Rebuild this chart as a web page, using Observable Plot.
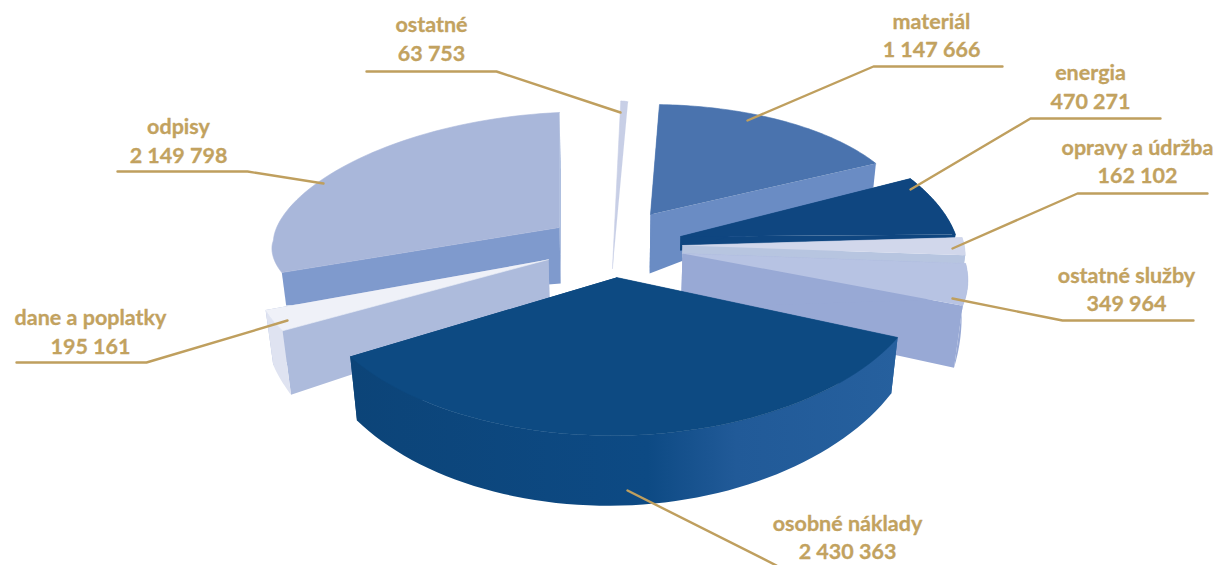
<!DOCTYPE html>
<html><head><meta charset="utf-8">
<script src="https://cdn.jsdelivr.net/npm/d3@7"></script>
<script src="https://cdn.jsdelivr.net/npm/@observablehq/plot@0.6"></script>
<style>html,body{margin:0;padding:0;background:#fff}svg{display:block}</style>
</head><body><div id="chart"></div>
<script>
const categories = ["materiál","energia","opravy a údržba","ostatné služby","osobné náklady","dane a poplatky","odpisy","ostatné"];
const values = [1147666,470271,162102,349964,2430363,195161,2149798,63753];
const valueLabels = ["1 147 666","470 271","162 102","349 964","2 430 363","195 161","2 149 798","63 753"];

// Picture layout of every exploded slice (the perspective of the original is per slice)
const sliceLayout = [
 {ax:650,ay:214,rx:257,ryF:110,ryN:110,p:1.05,rot:0,sx:0,sxN:0,sy:0,h0:59,hs:20,he:24,hm:0,top:"#4a73ae",side:"#6a8cc4",rim:"none"},
 {ax:680,ay:236,rx:278,ryF:136,ryN:136,p:1,rot:0,sx:-29,sxN:-29,sy:8.5,h0:14,hs:6,he:6,hm:0,top:"#0f4680",side:"#0f4680"},
 {ax:682,ay:245,rx:282,ryF:122,ryN:122,p:1,rot:0,sx:-20,sxN:-20,sy:1.4,h0:12,hs:8,he:8,hm:0,top:"#d1d7eb",side:"#b7c5e0"},
 {ax:682,ay:253,rx:280,ryF:138,ryN:138,p:1,rot:0,sx:-55,sxN:-55,sy:0.4,h0:55,hs:35,he:62,hm:0,top:"#b7c3e3",side:"#98a9d5"},
 {ax:616,ay:277,rx:308,ryF:158,ryN:158,p:1.05,rot:0,sx:11.7,sxN:11.7,sy:3.8,h0:64,hs:56,he:64,hm:10,top:"#0d4a82",side:"url(#rimGrad)"},
 {ax:548,ay:259,rx:289,ryF:133,ryN:133,p:1,rot:0,sx:41,sxN:41,sy:0,h0:49,hs:64,he:55,hm:0,top:"#eff1f8",side:"#adbbdc",rim:"#dfe3f1"},
 {ax:559,ay:227,rx:286,ryF:115,ryN:107,p:1.15,rot:1.3,sx:0,sxN:30,sy:-13,h0:56,hs:33,he:50,hm:0,top:"#a9b7da",side:"#7f9acd",rim:"none"},
 {ax:612,ay:268,rx:125,ryF:168,ryN:168,p:1,rot:5.1,sx:0,sxN:0,sy:0,h0:1,hs:1,he:1,hm:0,top:"#c8cfe6",side:"#c8cfe6"}
];
const drawOrder = [7,6,5,0,1,2,3,4];
const startAngle = 2, vanishX = 612, convergence = 0.0004;

// label centre and leader line of each category, picture layout
const labelLayout = [
 {x:931,y:33.5,leader:[[1002,66],[873,66],[747,120]]},
 {x:1090,y:85,leader:[[1160,118],[1030,118],[910,189]]},
 {x:1137,y:159.5,leader:[[1207,193],[1077,193],[952,248]]},
 {x:1126,y:287.5,leader:[[1193,320],[1062,320],[952,298]]},
 {x:847,y:535.5,leader:[[627,490],[776,565]]},
 {x:90,y:330,leader:[[16,362],[146,362],[287,320]]},
 {x:178,y:139,leader:[[117,171],[247,171],[323,183]]},
 {x:431,y:37,leader:[[366,71],[496,71],[620,112]]}
];

const total = d3.sum(values);
const ends = Array.from(d3.cumsum(values), v => startAngle + v / total * 360);
const rad = d => d * Math.PI / 180;

function rimPoint(L, a0, a1, t) {
  const th = rad(a0 + (a1 - a0) * t + L.rot), c = Math.cos(th), s = Math.sin(th);
  const x = L.ax + L.rx * s + (c < 0 ? L.sxN : L.sx) * c;
  const y = L.ay - (c > 0 ? L.ryF : L.ryN) * Math.sign(c) * Math.pow(Math.abs(c), L.p) + L.sy * s;
  const h = L.hs + (L.he - L.hs) * t + L.hm * Math.sin(Math.PI * t);
  return {x, y, h};
}
const drop = ({x, y, h}) => ({x: vanishX + (x - vanishX) * (1 - convergence * h), y: y + h});

const polygon = (pts, fill, stroke = "none") => Plot.line(pts, {x: "x", y: "y", fill, stroke, strokeWidth: 0.6});

const sliceMarks = drawOrder.flatMap(i => {
  const L = sliceLayout[i], a1 = ends[i], a0 = a1 - values[i] / total * 360;
  const arc = d3.range(0, 61).map(k => rimPoint(L, a0, a1, k / 60));
  const apex = {x: L.ax, y: L.ay, h: L.h0};
  const faceOf = p => [apex, p, drop(p), drop(apex)];
  return [
    polygon(faceOf(arc[60]), L.side),
    polygon(faceOf(arc[0]), L.side),
    polygon([...arc, ...arc.map(drop).reverse()], L.rim || L.side),
    polygon([apex, ...arc], L.top, L.top)
  ];
});

const gradient = () => {
  const defs = d3.create("svg:defs");
  const g = defs.append("linearGradient").attr("id", "rimGrad")
    .attr("gradientUnits", "userSpaceOnUse").attr("x1", 350).attr("x2", 900).attr("y1", 0).attr("y2", 0);
  [[0, "#0c4478"], [0.54, "#0d4a84"], [0.7, "#215a98"], [1, "#26609e"]]
    .forEach(([o, c]) => g.append("stop").attr("offset", o).attr("stop-color", c));
  return defs.node();
};

const gold = "#c2a25f";
const labels = categories.map((c, i) => ({x: labelLayout[i].x, y: labelLayout[i].y, text: c + "\n" + valueLabels[i]}));

const plot = Plot.plot({
  width: 1225, height: 565, margin: 0,
  x: {domain: [0, 1225], range: [0, 1225], axis: null},
  y: {domain: [0, 565], range: [0, 565], axis: null},
  style: {background: "#fff"},
  marks: [
    gradient,
    ...sliceMarks,
    ...labelLayout.map(l => Plot.line(l.leader, {x: d => d[0], y: d => d[1], stroke: "#bf9f5e", strokeWidth: 2.4})),
    Plot.text(labels, {x: "x", y: "y", text: "text", fill: gold, stroke: gold, strokeWidth: 0.3, fontFamily: "Lato", fontWeight: 700, fontSize: 21.5, lineHeight: 1.31, textAnchor: "middle"})
  ]
});
document.getElementById("chart").append(plot);
</script></body></html>
